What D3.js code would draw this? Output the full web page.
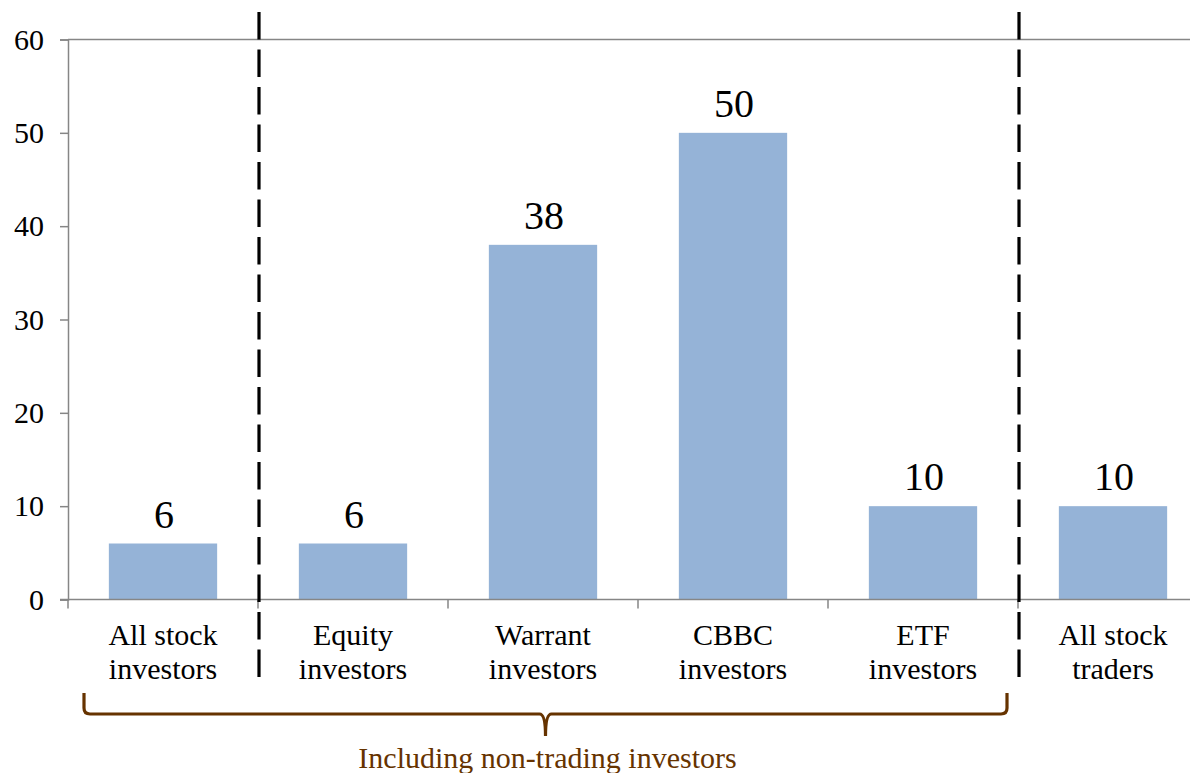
<!DOCTYPE html>
<html>
<head>
<meta charset="utf-8">
<script src="https://cdn.jsdelivr.net/npm/d3@7"></script>
<style>
  body { margin: 0; background: #fff; }
  svg { display: block; }
  svg text { font-family: 'Liberation Serif', Tinos, 'Times New Roman', Times, 'DejaVu Serif', serif; }
</style>
</head>
<body>
<svg id="chart" width="1190" height="773"></svg>
<script>
var categories = [
  ['All stock', 'investors'],
  ['Equity', 'investors'],
  ['Warrant', 'investors'],
  ['CBBC', 'investors'],
  ['ETF', 'investors'],
  ['All stock', 'traders']
]
var values = [6, 6, 38, 50, 10, 10]
var yTicks = [0, 10, 20, 30, 40, 50, 60]
var dividers = [1, 5] // dashed lines sit before these categories
var braceLabel = 'Including non-trading investors'

var svg = d3.select('#chart')
var plotLeft = 68
var plotTop = 39.5
var plotBottom = 599.5
var step = 190

var x = d3.scaleBand()
    .domain(d3.range(categories.length))
    .range([plotLeft, plotLeft + step * categories.length])
    .paddingInner(0.43)
    .paddingOuter(0.215)

var y = d3.scaleLinear()
    .domain([0, 60])
    .range([plotBottom, plotTop])

var axisColor = '#868686'

// top border of plot area
svg.append('line')
    .attr('x1', plotLeft).attr('x2', 1190)
    .attr('y1', y(60)).attr('y2', y(60))
    .attr('stroke', axisColor).attr('stroke-width', 1.5)

// y axis
var yAxis = svg.append('g')
    .attr('transform', `translate(${plotLeft},0)`)
    .call(d3.axisLeft(y).tickValues(yTicks).tickSize(8).tickPadding(16))
yAxis.attr('font-family', null)
yAxis.select('.domain').attr('stroke', axisColor).attr('stroke-width', 1.5)
yAxis.selectAll('.tick line').attr('stroke', axisColor).attr('stroke-width', 1.5)
yAxis.selectAll('.tick text')
    .attr('font-size', 30)
    .attr('fill', '#000')

// bars
svg.append('g').selectAll('rect')
    .data(values)
    .join('rect')
    .attr('x', (d, i) => x(i))
    .attr('width', x.bandwidth())
    .attr('y', d => y(d))
    .attr('height', d => y(0) - y(d))
    .attr('fill', '#95B3D7')

// value labels
svg.append('g').selectAll('text')
    .data(values)
    .join('text')
    .attr('x', (d, i) => x(i) + x.bandwidth() / 2 + 1)
    .attr('y', d => y(d) - 16)
    .attr('text-anchor', 'middle')
    .attr('font-size', 40)
    .text(d => d)

// x axis baseline and ticks at band boundaries
svg.append('line')
    .attr('x1', plotLeft - 8).attr('x2', 1190)
    .attr('y1', y(0)).attr('y2', y(0))
    .attr('stroke', axisColor).attr('stroke-width', 1.5)

svg.append('g').selectAll('line')
    .data(d3.range(categories.length + 1))
    .join('line')
    .attr('x1', i => plotLeft + i * step).attr('x2', i => plotLeft + i * step)
    .attr('y1', y(0)).attr('y2', y(0) + 9)
    .attr('stroke', axisColor).attr('stroke-width', 1.5)

// category labels
var catG = svg.append('g').selectAll('text')
    .data(categories)
    .join('text')
    .attr('text-anchor', 'middle')
    .attr('font-size', 30)
    .attr('fill', '#000')
catG.selectAll('tspan')
    .data((d, i) => d.map(t => ({t: t, i: i})))
    .join('tspan')
    .attr('x', d => x(d.i) + x.bandwidth() / 2)
    .attr('y', (d, j) => 645 + j * 34)
    .text(d => d.t)

// dashed dividers
svg.append('g').selectAll('line')
    .data(dividers)
    .join('line')
    .attr('x1', i => plotLeft + i * step + 1).attr('x2', i => plotLeft + i * step + 1)
    .attr('y1', 12).attr('y2', 678)
    .attr('stroke', '#000')
    .attr('stroke-width', 3.2)
    .attr('stroke-dasharray', '27.5 10')

// brace under the first five categories
var braceColor = '#663300'
var bx0 = plotLeft + 16
var bx1 = plotLeft + 5 * step - 11
var bmid = (bx0 + bx1) / 2
var byTop = 693
var byLine = 714
var byTip = 736
var r = 6
var brace = d3.path()
brace.moveTo(bx0, byTop)
brace.lineTo(bx0, byLine - r)
brace.quadraticCurveTo(bx0, byLine, bx0 + r, byLine)
brace.lineTo(bmid - r, byLine)
brace.quadraticCurveTo(bmid, byLine, bmid, byTip)
brace.quadraticCurveTo(bmid, byLine, bmid + r, byLine)
brace.lineTo(bx1 - r, byLine)
brace.quadraticCurveTo(bx1, byLine, bx1, byLine - r)
brace.lineTo(bx1, byTop)

svg.append('path')
    .attr('d', brace.toString())
    .attr('fill', 'none')
    .attr('stroke', braceColor)
    .attr('stroke-width', 3.2)

svg.append('text')
    .attr('x', bmid + 2)
    .attr('y', 768)
    .attr('text-anchor', 'middle')
    .attr('font-size', 30)
    .attr('fill', braceColor)
    .text(braceLabel)
</script>
</body>
</html>
